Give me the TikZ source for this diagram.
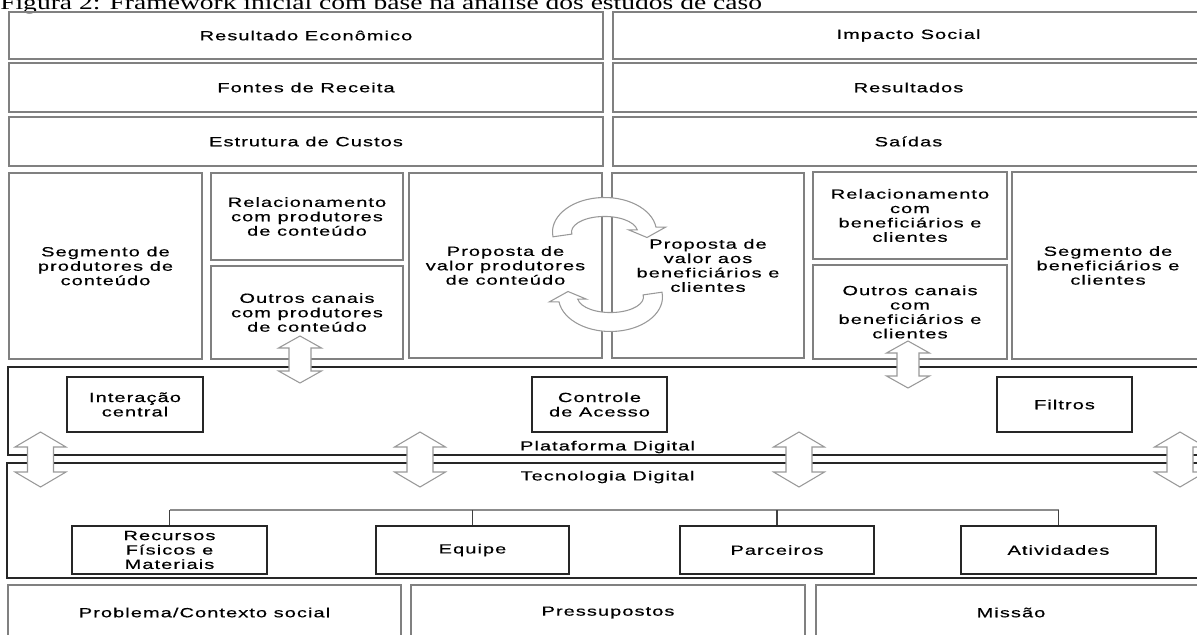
\documentclass[tikz,border=0pt]{standalone}
\usepackage{fontspec}
\setmainfont{Liberation Sans}[FakeStretch=1.5, LetterSpace=8, FakeBold=0.5]
\newfontfamily\titlefont{Liberation Serif}[FakeStretch=1.35]
\usetikzlibrary{fit, calc}

% vertical two-headed block arrow: x, top tip, bottom tip, half head, half shaft, head length
\newcommand{\updown}[6]{%
  \draw[link] (#1,#2) -- (#1+#4,#2+#6) -- (#1+#5,#2+#6) -- (#1+#5,#3-#6)
    -- (#1+#4,#3-#6) -- (#1,#3) -- (#1-#4,#3-#6) -- (#1-#5,#3-#6)
    -- (#1-#5,#2+#6) -- (#1-#4,#2+#6) -- cycle;}
% one half of the exchange loop between the two value propositions
\newcommand{\bendarrow}{%
  \draw[link] ($(604.5,232)+(172:52 and 34.5)$)
    arc[start angle=172, end angle=352, x radius=52, y radius=34.5]
    -- (665.5,227.2) -- (647,237.5) -- (628.5,229.8) -- (637.2,229.8)
    arc[start angle=352, end angle=172, x radius=33, y radius=15.5] -- cycle;}

\begin{document}
\begin{tikzpicture}[x=0.75pt, y=-0.75pt,
    every node/.style={font=\fontsize{10}{10.8}\selectfont, text=black},
    gbox/.style={draw=black!50, line width=1pt, inner sep=0pt},
    kbox/.style={draw=black!85, line width=0.9pt, inner sep=0pt},
    txt/.style={label={[align=center]center:#1}},
    link/.style={draw=black!40, fill=white, line width=0.8pt},
    tree/.style={draw=black!45, line width=0.8pt},
]
\useasboundingbox (0,0) rectangle (1197,635);
\clip (0,0) rectangle (1197,635);

\node[anchor=base west, inner sep=0pt, font=\titlefont\fontsize{15.3}{15.3}\selectfont]
  (titulo) at (0,10) {Figura 2: Framework inicial com base na análise dos estudos de caso};

% results, revenue and cost rows
\node[gbox, fit={(9,12) (603,59)},     txt={Resultado Econômico}] (econ) {};
\node[gbox, fit={(613,12) (1204,59)},  txt={Impacto Social}]      (impacto) {};
\node[gbox, fit={(9,63) (603,112)},    txt={Fontes de Receita}]   (receita) {};
\node[gbox, fit={(613,63) (1204,112)}, txt={Resultados}]          (result) {};
\node[gbox, fit={(9,117) (603,166)},   txt={Estrutura de Custos}] (custos) {};
\node[gbox, fit={(613,117) (1204,166)}, txt={Saídas}]             (saidas) {};

% two-sided canvas
\node[gbox, fit={(9,173) (202,359)},    txt={Segmento de\\ produtores de\\ conteúdo}] (segprod) {};
\node[gbox, fit={(211,173) (403,260)},  txt={Relacionamento\\ com produtores\\ de conteúdo}] (relprod) {};
\node[gbox, fit={(211,266) (403,359)},  txt={Outros canais\\ com produtores\\ de conteúdo}] (canprod) {};
\node[gbox, fit={(409,173) (602,358)},  txt={Proposta de\\ valor produtores\\ de conteúdo}] (valprod) {};
\node[gbox, fit={(612,173) (804,358)},  txt={Proposta de\\ valor aos\\ beneficiários e\\ clientes}] (valben) {};
\node[gbox, fit={(813,172) (1007,259)}, txt={Relacionamento\\ com\\ beneficiários e\\ clientes}] (relben) {};
\node[gbox, fit={(813,265) (1007,359)}, txt={Outros canais\\ com\\ beneficiários e\\ clientes}] (canben) {};
\node[gbox, fit={(1012,172) (1204,359)}, txt={Segmento de\\ beneficiários e\\ clientes}] (segben) {};

% platform and technology layers
\node[kbox, fit={(8,367) (1210,455)}]   (plat) {};
\node[kbox, fit={(67,377) (203,432)},   txt={Interação\\ central}]   (interacao) {};
\node[kbox, fit={(532,377) (667,432)},  txt={Controle\\ de Acesso}]  (controle) {};
\node[kbox, fit={(997,377) (1132,432)}, txt={Filtros}]               (filtros) {};
\node (platlbl) at (607.5,447) {Plataforma Digital};
\node[kbox, fit={(7,463) (1210,578)}]   (tec) {};
\node (teclbl) at (607.5,477) {Tecnologia Digital};
\node[kbox, fit={(72,526) (267,574)},   txt={Recursos\\ Físicos e\\ Materiais}] (recursos) {};
\node[kbox, fit={(376,526) (569,574)},  txt={Equipe}]     (equipe) {};
\node[kbox, fit={(680,526) (874,574)},  txt={Parceiros}]  (parceiros) {};
\node[kbox, fit={(961,526) (1156,574)}, txt={Atividades}] (atividades) {};

% foundation row
\node[gbox, fit={(8,585) (401,640)},    txt={Problema/Contexto social}] (problema) {};
\node[gbox, fit={(411,585) (805,640)},  txt={Pressupostos}] (pressup) {};
\node[gbox, fit={(816,585) (1206,640)}, txt={Missão}]       (missao) {};

% resources tree
\coordinate (bar) at (0,510);
\draw[tree] (recursos.north |- bar) -- (atividades.north |- bar);
\foreach \n in {recursos, equipe, parceiros, atividades}
  \draw[tree, black!75] (\n.north) -- (\n.north |- bar);

% exchange loop
\bendarrow
\begin{scope}[rotate around={180:(607.5,264.5)}]
  \bendarrow
\end{scope}

% links between layers
\updown{300}{336}{383}{21.5}{11}{12}
\updown{908}{341}{388}{21.5}{11}{12}
\foreach \x in {40.5, 420, 799, 1180}
  {\updown{\x}{432}{487}{25.5}{13}{15}}
\end{tikzpicture}
\end{document}
